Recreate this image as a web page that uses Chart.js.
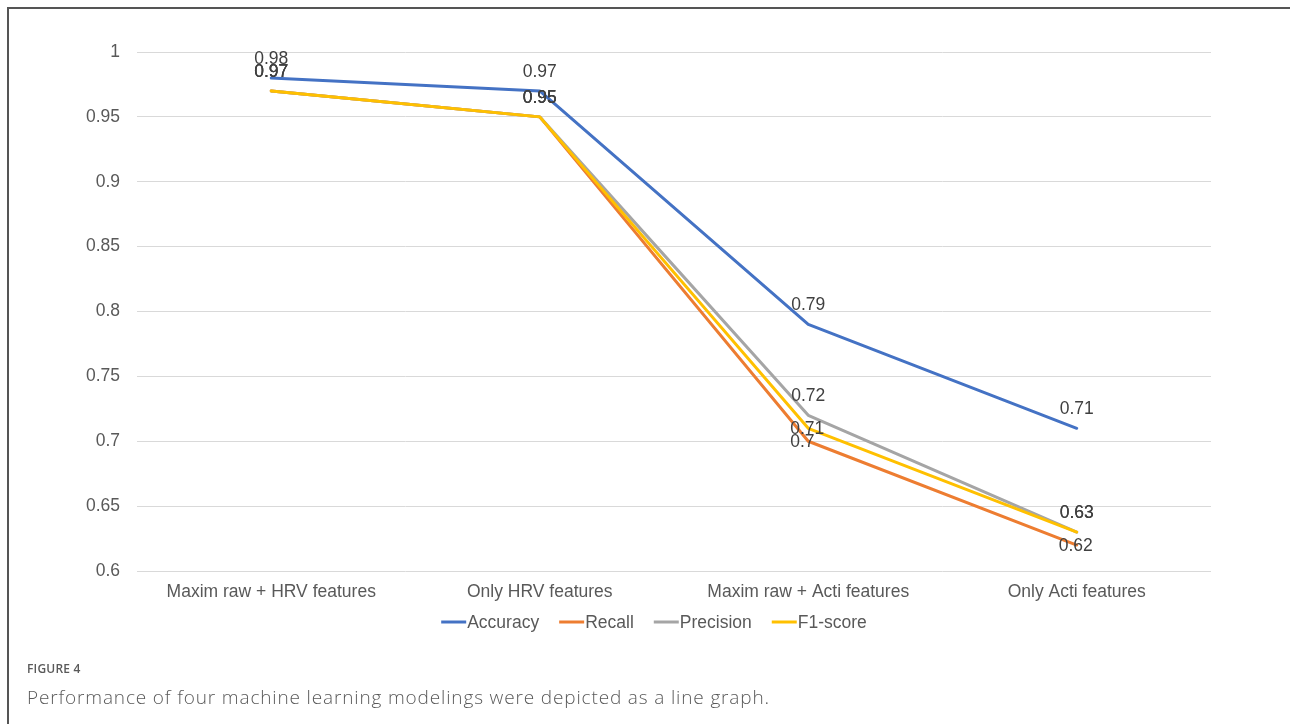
<!DOCTYPE html>
<html>
<head>
<meta charset="utf-8">
<title>Figure 4</title>
<script src="https://cdn.jsdelivr.net/npm/chart.js@4.4.1/dist/chart.umd.min.js"></script>
<style>
  html, body { margin: 0; padding: 0; background: #ffffff; }
  body { width: 1290px; height: 724px; position: relative; overflow: hidden; }
  #frame {
    position: absolute; left: 7px; top: 7px; right: 0; bottom: 0;
    border-left: 2px solid #555555; border-top: 2px solid #555555;
  }
  #chart { position: absolute; left: 0; top: 0; }
  .fig-label {
    position: absolute; left: 27px; top: 660px;
    font-family: "Open Sans", sans-serif; font-size: 12px; font-weight: 600;
    color: #5a5a5a; letter-spacing: 0.2px;
  }
  .fig-caption {
    position: absolute; left: 27px; top: 684px;
    font-family: "Open Sans", sans-serif; font-size: 19px; font-weight: 300;
    letter-spacing: 0.85px; color: #5a5a5a;
  }
</style>
</head>
<body>
<div id="frame"></div>
<canvas id="chart" width="1290" height="724"></canvas>
<div class="fig-label">FIGURE 4</div>
<div class="fig-caption">Performance of four machine learning modelings were depicted as a line graph.</div>

<script>
// Model variants on the x axis
const categories = [
  'Maxim raw + HRV features',
  'Only HRV features',
  'Maxim raw + Acti features',
  'Only Acti features'
];

// Scores per model variant
const accuracy  = [0.98, 0.97, 0.79, 0.71];
const recall    = [0.97, 0.95, 0.70, 0.62];
const precision = [0.97, 0.95, 0.72, 0.63];
const f1Score   = [0.97, 0.95, 0.71, 0.63];

// Value axis ticks
const yTicks = [0.6, 0.65, 0.7, 0.75, 0.8, 0.85, 0.9, 0.95, 1];

const FONT = '"Liberation Sans", Arial, sans-serif';
const FONT_SIZE = 17.5;
const TEXT_GREY = '#595959';

// Writes each point's value next to it ('above' the point, or 'on' it)
const valueLabels = {
  id: 'valueLabels',
  afterDatasetsDraw(chart) {
    const ctx = chart.ctx;
    ctx.save();
    ctx.font = FONT_SIZE + 'px ' + FONT;
    ctx.fillStyle = '#404040';
    ctx.textBaseline = 'middle';
    chart.data.datasets.forEach((ds, i) => {
      const meta = chart.getDatasetMeta(i);
      meta.data.forEach((pt, j) => {
        const text = String(ds.data[j]);
        if (ds.labelPlace[j] === 'above') {
          ctx.textAlign = 'center';
          ctx.fillText(text, pt.x, pt.y - 19);
        } else {
          ctx.textAlign = 'left';
          ctx.fillText(text, pt.x - 18, pt.y + 1);
        }
      });
    });
    ctx.restore();
  }
};

// Legend with a short line sample directly followed by the series name
const lineLegend = {
  id: 'lineLegend',
  afterDraw(chart) {
    const ctx = chart.ctx;
    const area = chart.chartArea;
    ctx.save();
    ctx.font = FONT_SIZE + 'px ' + FONT;
    ctx.textBaseline = 'middle';
    ctx.textAlign = 'left';
    const sample = 25, gap = 1, spacing = 20;
    const items = chart.data.datasets.map(ds => ({
      ds, w: sample + gap + ctx.measureText(ds.label).width
    }));
    const total = items.reduce((s, it) => s + it.w, 0) + spacing * (items.length - 1);
    let x = (area.left + area.right) / 2 - 20 - total / 2;
    const y = area.bottom + 51;
    items.forEach(it => {
      ctx.strokeStyle = it.ds.borderColor;
      ctx.lineWidth = 3;
      ctx.beginPath();
      ctx.moveTo(x, y);
      ctx.lineTo(x + sample, y);
      ctx.stroke();
      ctx.fillStyle = TEXT_GREY;
      ctx.fillText(it.ds.label, x + sample + gap, y + 1);
      x += it.w + spacing;
    });
    ctx.restore();
  }
};

const lineStyle = {
  borderWidth: 3,
  pointRadius: 0,
  pointHoverRadius: 0,
  tension: 0,
  borderJoinStyle: 'round',
  borderCapStyle: 'round',
  fill: false
};

new Chart(document.getElementById('chart'), {
  type: 'line',
  data: {
    labels: categories,
    datasets: [
      { label: 'Accuracy',  data: accuracy,  borderColor: '#4472C4', backgroundColor: '#4472C4',
        order: 3, labelPlace: ['above', 'above', 'above', 'above'], ...lineStyle },
      { label: 'Recall',    data: recall,    borderColor: '#ED7D31', backgroundColor: '#ED7D31',
        order: 2, labelPlace: ['above', 'above', 'on', 'on'], ...lineStyle },
      { label: 'Precision', data: precision, borderColor: '#A5A5A5', backgroundColor: '#A5A5A5',
        order: 1, labelPlace: ['above', 'above', 'above', 'above'], ...lineStyle },
      { label: 'F1-score',  data: f1Score,   borderColor: '#FFC000', backgroundColor: '#FFC000',
        order: 0, labelPlace: ['above', 'above', 'on', 'above'], ...lineStyle }
    ]
  },
  options: {
    responsive: false,
    animation: false,
    devicePixelRatio: 1,
    layout: { padding: { left: 0, top: 52, right: 79, bottom: 113 } },
    plugins: {
      legend: { display: false },
      tooltip: { enabled: false }
    },
    scales: {
      x: {
        offset: true,
        grid: { display: false, drawTicks: false },
        border: { display: false },
        ticks: { color: TEXT_GREY, font: { family: FONT, size: FONT_SIZE }, padding: 11, maxRotation: 0 },
        afterFit(scale) { scale.height = 40; }
      },
      y: {
        min: 0.6,
        max: 1,
        afterBuildTicks(scale) { scale.ticks = yTicks.map(v => ({ value: v })); },
        grid: { color: '#D9D9D9', lineWidth: 1, drawTicks: false },
        border: { display: false },
        ticks: {
          color: TEXT_GREY,
          font: { family: FONT, size: FONT_SIZE },
          padding: 17,
          callback: v => String(+Number(v).toFixed(2))
        },
        afterFit(scale) { scale.width = 137; }
      }
    }
  },
  plugins: [valueLabels, lineLegend]
});
</script>
</body>
</html>
